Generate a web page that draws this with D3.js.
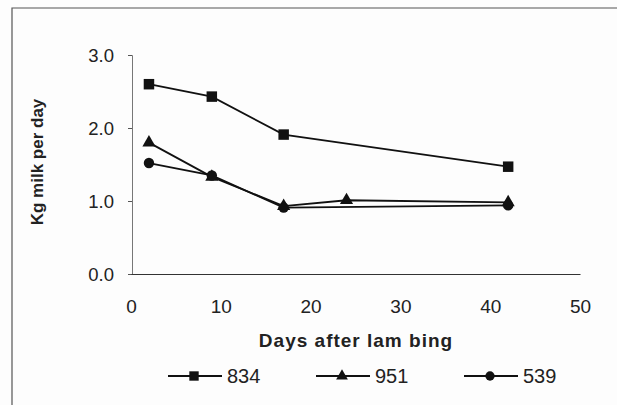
<!DOCTYPE html>
<html><head><meta charset="utf-8">
<script src="https://cdn.jsdelivr.net/npm/d3@7"></script>
<style>body{margin:0;background:#fff}svg{display:block}text{font-family:Arial,"Liberation Sans",sans-serif;fill:#222}</style>
</head><body>
<script>
const days834 = [2, 9, 17, 42];
const vals834 = [2.6, 2.43, 1.91, 1.47];
const days951 = [2, 9, 17, 24, 42];
const vals951 = [1.80, 1.33, 0.93, 1.01, 0.98];
const days539 = [2, 9, 17, 42];
const vals539 = [1.52, 1.35, 0.91, 0.94];
const seriesNames = ["834", "951", "539"];
const xTicks = [0, 10, 20, 30, 40, 50];
const yTicks = [0, 1, 2, 3];
const xTitle = "Days after lam bing";
const yTitle = "Kg milk per day";

const W = 617, H = 405;
const svg = d3.select("body").append("svg").attr("width", W).attr("height", H);
svg.append("rect").attr("width", W).attr("height", H).attr("fill", "#fdfdfd");
// frame
svg.append("path").attr("d", `M12,${H} L12,8 L${W},8`).attr("fill", "none").attr("stroke", "#555").attr("stroke-width", 1.2);

const x = d3.scaleLinear().domain([0, 50]).range([131, 580]);
const y = d3.scaleLinear().domain([0, 3]).range([274, 55]);

// y axis
const ya = svg.append("g").attr("transform", `translate(${x(0)+1},0)`)
  .call(d3.axisLeft(y).tickValues(yTicks).tickFormat(d3.format(".1f")).tickSize(4).tickPadding(14));
ya.select(".domain").attr("stroke", "#777");
ya.selectAll(".tick line").attr("stroke", "#555");
ya.selectAll("text").style("font-size", "18.5px").attr("fill", "#333").attr("dy", "0.35em");

// x axis
const xa = svg.append("g").attr("transform", `translate(0,${y(0)})`)
  .call(d3.axisBottom(x).tickValues(xTicks).tickSize(0).tickPadding(24));
xa.select(".domain").attr("stroke", "#333").attr("stroke-width", 1.2);
xa.selectAll("text").style("font-size", "19px").attr("fill", "#333").attr("dy", "0.35em").attr("y", 32);

svg.append("text").attr("x", 356).attr("y", 340).attr("dy", "0.35em").attr("text-anchor", "middle")
  .style("font-size", "19px").style("font-weight", "bold").style("letter-spacing", "1px").text(xTitle);
svg.append("text").attr("transform", "translate(37,162) rotate(-90)").attr("dy", "0.35em").attr("text-anchor", "middle")
  .style("font-size", "17px").style("font-weight", "bold").text(yTitle);

const line = d3.line().x(d => x(d[0])).y(d => y(d[1]));
const data = [
  {name: seriesNames[0], pts: days834.map((d, i) => [d, vals834[i]]), sym: d3.symbolSquare, size: 110},
  {name: seriesNames[1], pts: days951.map((d, i) => [d, vals951[i]]), sym: d3.symbolTriangle, size: 75},
  {name: seriesNames[2], pts: days539.map((d, i) => [d, vals539[i]]), sym: d3.symbolCircle, size: 85}
];
data.forEach(s => {
  svg.append("path").attr("d", line(s.pts)).attr("fill", "none").attr("stroke", "#111").attr("stroke-width", 1.8);
});
data.forEach(s => {
  svg.selectAll(null).data(s.pts).enter().append("path")
    .attr("transform", d => `translate(${x(d[0])},${y(d[1])})`)
    .attr("d", d3.symbol().type(s.sym).size(s.size)).attr("fill", "#111");
});

// legend
const legX = [168, 316, 464];
data.forEach((s, i) => {
  const g = svg.append("g").attr("transform", `translate(${legX[i]},376)`);
  g.append("line").attr("x1", 0).attr("x2", 54).attr("stroke", "#111").attr("stroke-width", 1.8);
  g.append("path").attr("transform", "translate(26,0)").attr("d", d3.symbol().type(s.sym).size(s.size * 0.8)).attr("fill", "#111");
  g.append("text").attr("x", 59).attr("dy", "0.35em").style("font-size", "20px").attr("fill", "#333").text(s.name);
});
</script>
</body></html>
